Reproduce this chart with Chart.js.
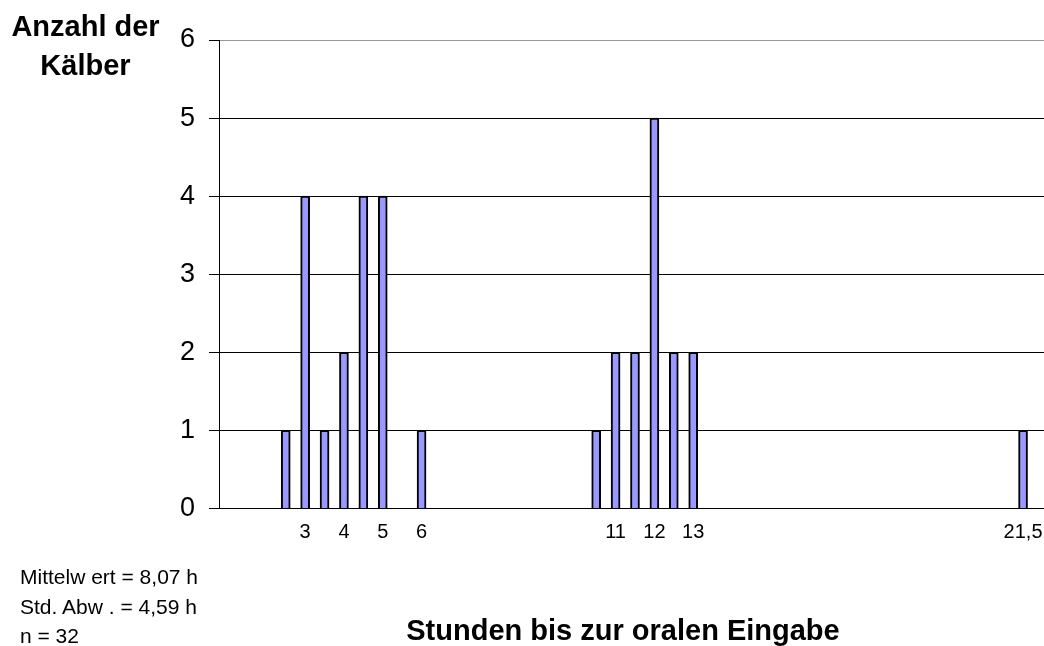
<!DOCTYPE html>
<html>
<head>
<meta charset="utf-8">
<script src="https://cdn.jsdelivr.net/npm/chart.js@4"></script>
<style>
  body { margin: 0; background: #fff; }
  #wrap { position: relative; width: 1044px; height: 646px; overflow: hidden; font-family: "Liberation Sans", Arial, sans-serif; color: #000; }
  #grafico { position: absolute; left: 0; top: 0; }
  .txt { position: absolute; white-space: pre; }
  #yTitel { left: 0; top: 7px; width: 171px; text-align: center; font-weight: bold; font-size: 29px; line-height: 39px; }
  #xTitel { left: 323px; top: 613px; width: 600px; text-align: center; font-weight: bold; font-size: 29px; line-height: 34px; }
  #stats { left: 20px; top: 562px; font-size: 21px; line-height: 29.5px; }
</style>
</head>
<body>
<div id="wrap">
  <canvas id="grafico" width="1044" height="646"></canvas>
  <div class="txt" id="yTitel">Anzahl der
Kälber</div>
  <div class="txt" id="xTitel">Stunden bis zur oralen Eingabe</div>
  <div class="txt" id="stats">Mittelw ert = 8,07 h
Std. Abw . = 4,59 h
n = 32</div>
</div>
<script>
// Stunden bis zur Eingabe (x) und Anzahl der Kälber (y)
const stunden = [2.5, 3, 3.5, 4, 4.5, 5, 6, 10.5, 11, 11.5, 12, 12.5, 13, 21.5]
const anzahl = [1, 4, 1, 2, 4, 4, 1, 1, 2, 2, 5, 2, 2, 1]
// beschriftete Stellen auf der x-Achse
const xTicks = [3, 4, 5, 6, 11, 12, 13, 21.5]
const yTicks = [0, 1, 2, 3, 4, 5, 6]

const schrift = "'Liberation Sans', Arial, sans-serif"

const ctx = document.getElementById("grafico")
new Chart(ctx, {
  type: 'bar',
  data: {
    datasets: [{
      data: stunden.map((s, i) => ({ x: s, y: anzahl[i] })),
      backgroundColor: '#9999FF',
      borderColor: '#000000',
      borderWidth: 2,
      barThickness: 9
    }]
  },
  options: {
    responsive: false,
    animation: false,
    layout: { padding: { top: 40, left: 0, right: 0, bottom: 0 } },
    plugins: { legend: { display: false }, tooltip: { enabled: false } },
    scales: {
      x: {
        type: 'linear',
        offset: false,
        min: 0.78,
        max: 22.04,
        afterBuildTicks: axis => { axis.ticks = xTicks.map(v => ({ value: v })) },
        afterFit: scale => {
          scale.height = 137.5
          scale.paddingLeft = 0
          scale.paddingRight = 0
        },
        grid: { display: false, drawTicks: false },
        border: { display: true, color: '#000', width: 1 },
        ticks: {
          padding: 12,
          color: '#000',
          font: { family: schrift, size: 20 },
          maxRotation: 0,
          autoSkip: false,
          callback: v => String(v).replace('.', ',')
        }
      },
      y: {
        min: 0,
        max: 6,
        afterBuildTicks: axis => { axis.ticks = yTicks.map(v => ({ value: v })) },
        afterFit: scale => { scale.width = 219 },
        grid: {
          color: c => (c.tick && c.tick.value === 6) ? '#999999' : '#000000',
          tickColor: '#000000',
          tickLength: 10,
          lineWidth: 1
        },
        border: { display: true, color: '#000', width: 1 },
        ticks: {
          padding: 14,
          color: '#000',
          font: { family: schrift, size: 27 }
        }
      }
    }
  }
})
</script>
</body>
</html>
